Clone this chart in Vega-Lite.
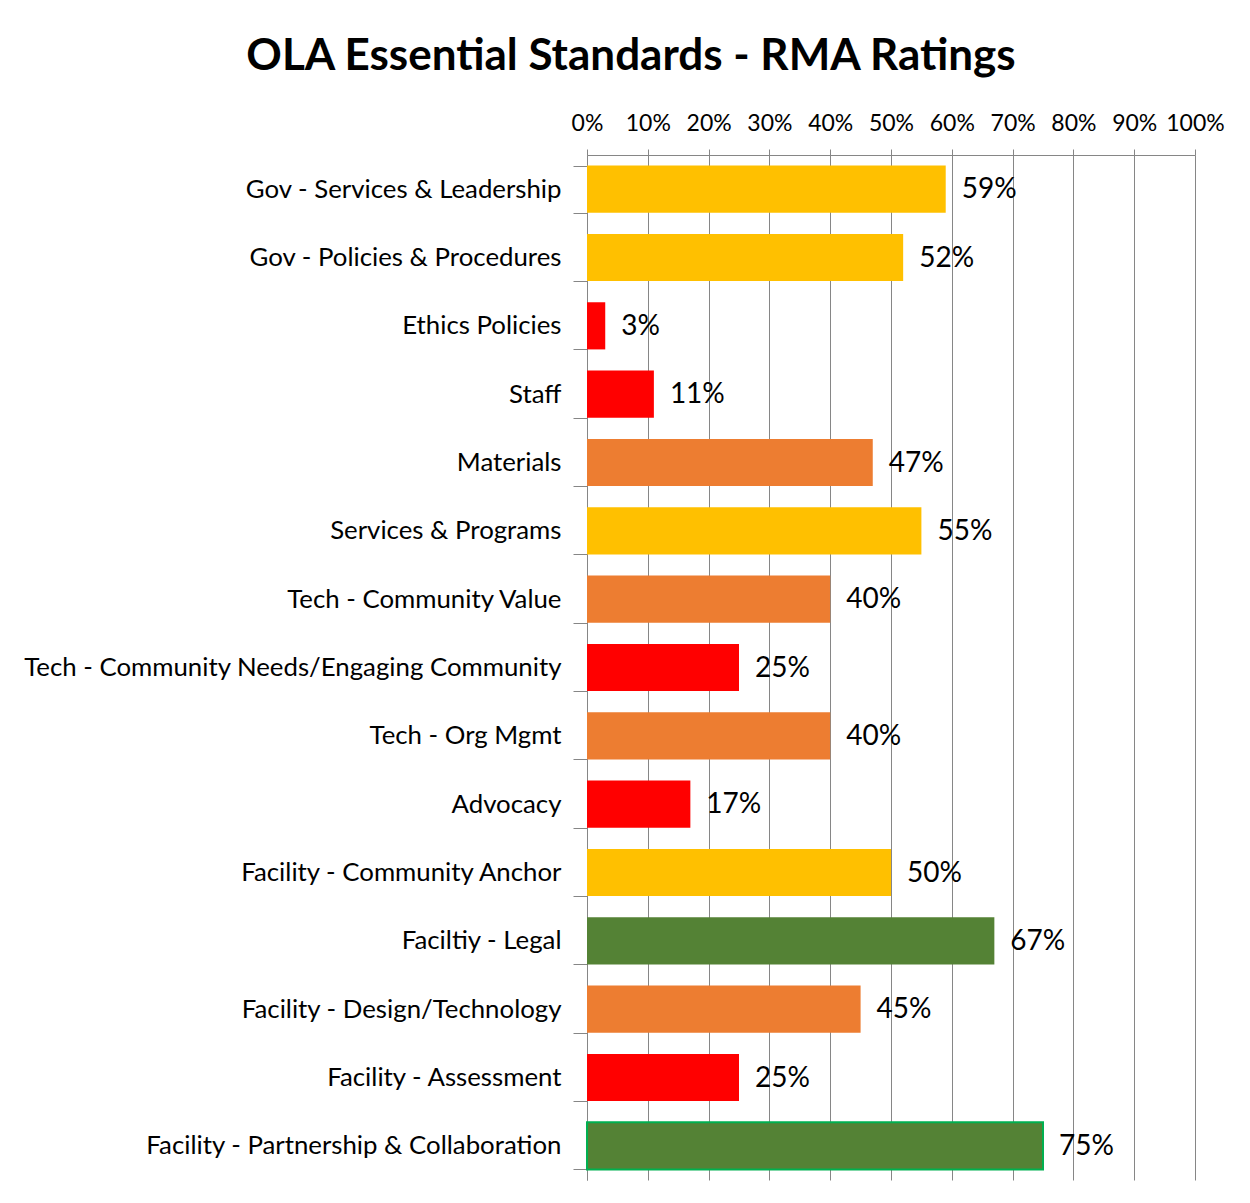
{
  "$schema": "https://vega.github.io/schema/vega-lite/v6.json",
  "autosize": {"type": "none"},
  "padding": {"left": 587, "top": 155, "right": 55, "bottom": 23},
  "width": 608,
  "height": 1025,
  "background": "white",
  "title": {
    "text": "OLA Essential Standards - RMA Ratings",
    "font": "Lato",
    "fontSize": 44,
    "fontWeight": "bold",
    "color": "#000000",
    "anchor": "middle",
    "frame": "group",
    "dx": -260,
    "offset": 33
  },
  "data": {
    "values": [
      {"standard": "Gov - Services & Leadership", "value": 0.59, "rating": "Yellow"},
      {"standard": "Gov - Policies & Procedures", "value": 0.52, "rating": "Yellow"},
      {"standard": "Ethics Policies", "value": 0.03, "rating": "Red"},
      {"standard": "Staff\u00a0", "value": 0.11, "rating": "Red"},
      {"standard": "Materials", "value": 0.47, "rating": "Orange"},
      {"standard": "Services & Programs", "value": 0.55, "rating": "Yellow"},
      {"standard": "Tech - Community Value", "value": 0.40, "rating": "Orange"},
      {"standard": "Tech - Community Needs/Engaging Community", "value": 0.25, "rating": "Red"},
      {"standard": "Tech - Org Mgmt", "value": 0.40, "rating": "Orange"},
      {"standard": "Advocacy\u00a0", "value": 0.17, "rating": "Red"},
      {"standard": "Facility - Community Anchor", "value": 0.50, "rating": "Yellow"},
      {"standard": "Faciltiy - Legal", "value": 0.67, "rating": "Green"},
      {"standard": "Facility - Design/Technology", "value": 0.45, "rating": "Orange"},
      {"standard": "Facility - Assessment", "value": 0.25, "rating": "Red"},
      {"standard": "Facility - Partnership & Collaboration", "value": 0.75, "rating": "Green"}
    ]
  },
  "encoding": {
    "y": {
      "field": "standard",
      "type": "nominal",
      "sort": null,
      "scale": {"paddingInner": 0.31, "paddingOuter": 0.155},
      "axis": {
        "title": null,
        "labelFont": "Lato",
        "labelFontSize": 25.8,
        "labelColor": "#000000",
        "labelPadding": 12,
        "labelLimit": 600,
        "tickSize": 14,
        "tickBand": "extent",
        "tickColor": "#868686",
        "domainColor": "#868686",
        "grid": false
      }
    },
    "x": {
      "field": "value",
      "type": "quantitative",
      "scale": {"domain": [0, 1], "nice": false},
      "axis": {
        "orient": "top",
        "title": null,
        "format": ".0%",
        "values": [0, 0.1, 0.2, 0.3, 0.4, 0.5, 0.6, 0.7, 0.8, 0.9, 1],
        "labelFont": "Lato",
        "labelFontSize": 23,
        "labelColor": "#000000",
        "labelPadding": 14,
        "tickSize": 6,
        "tickColor": "#868686",
        "domainColor": "#868686",
        "grid": true,
        "gridColor": "#868686",
        "gridOpacity": 1,
        "labelFlush": false
      }
    }
  },
  "layer": [
    {
      "mark": {"type": "bar", "strokeWidth": 2},
      "encoding": {
        "color": {
          "field": "rating",
          "type": "nominal",
          "legend": null,
          "scale": {
            "domain": ["Yellow", "Red", "Orange", "Green"],
            "range": ["#FFC000", "#FF0000", "#ED7D31", "#548235"]
          }
        },
        "stroke": {
          "condition": {"test": "datum.standard === 'Facility - Partnership & Collaboration'", "value": "#00B050"},
          "value": null
        }
      }
    },
    {
      "mark": {"type": "text", "align": "left", "baseline": "middle", "dx": 16, "dy": 1, "font": "Lato", "fontSize": 28, "color": "#000000"},
      "encoding": {
        "text": {"field": "value", "type": "quantitative", "format": ".0%"}
      }
    }
  ],
  "config": {
    "view": {"stroke": null}
  }
}
